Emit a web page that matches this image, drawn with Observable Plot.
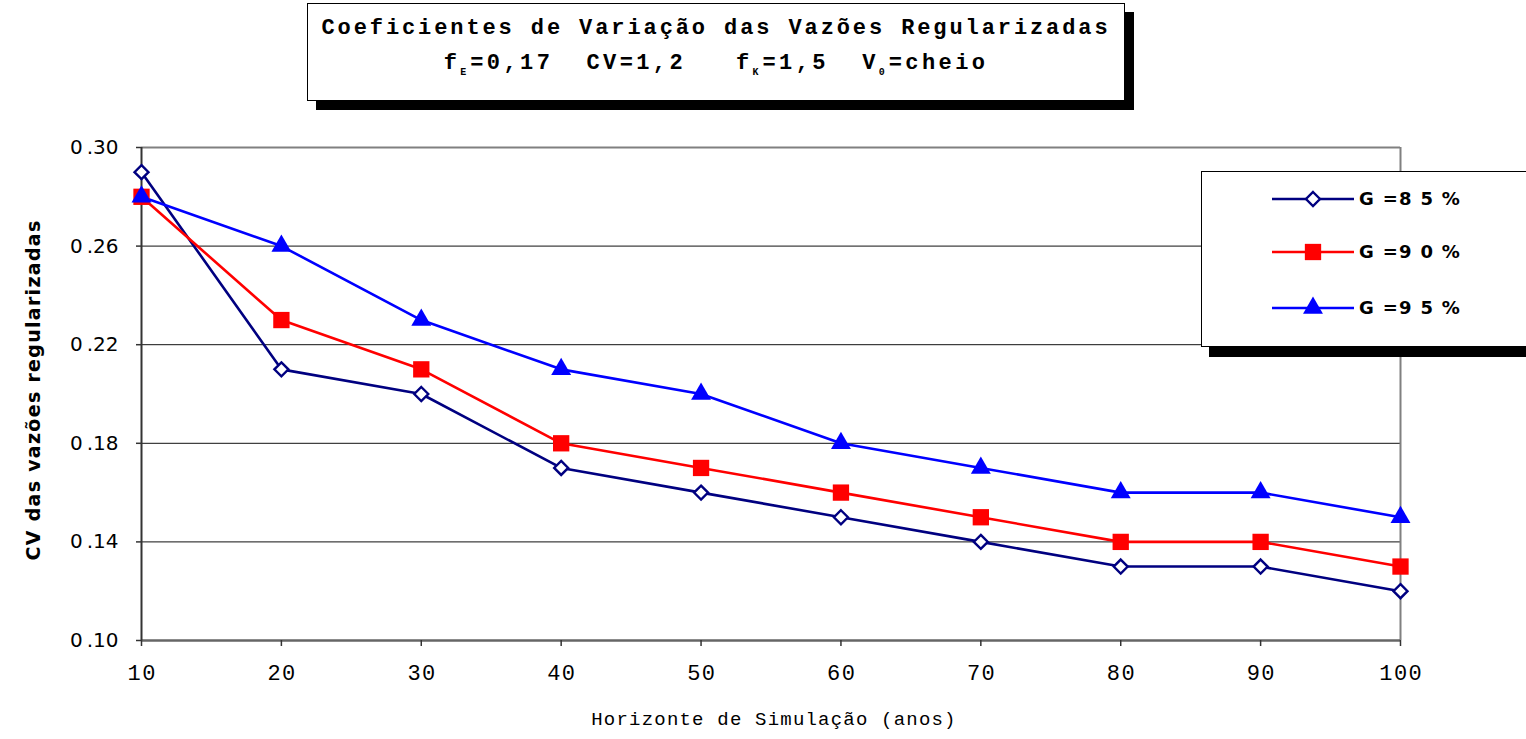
<!DOCTYPE html>
<html>
<head>
<meta charset="utf-8">
<script src="https://cdn.jsdelivr.net/npm/d3@7"></script>
<script src="https://cdn.jsdelivr.net/npm/@observablehq/plot@0.6"></script>
<style>
  html, body { margin: 0; padding: 0; background: #fff; overflow: hidden; }
  #wrap { position: relative; width: 1526px; height: 739px; }
  #chart { position: absolute; left: 0; top: 0; }
  .titlebox {
    position: absolute; left: 307px; top: 3px; width: 816px; height: 96px;
    border: 1px solid #000; background: #fff; box-shadow: 9px 9px 0 #000;
    font-family: "Liberation Mono", monospace; font-weight: bold; color: #000;
    text-align: center;
  }
  .t1 { position: absolute; left: 0; right: 0; top: 12px; font-size: 22px; letter-spacing: 2.9px; }
  .t2 { position: absolute; left: 0; right: 0; top: 47px; font-size: 22px; letter-spacing: 3.4px; white-space: pre; }
  .t2 sub { font-size: 10px; letter-spacing: 0; vertical-align: -6px; margin-right: 4px; }
  .legend {
    position: absolute; left: 1201px; top: 171px; width: 360px; height: 174px;
    border: 1px solid #000; background: #fff; box-shadow: 8px 10px 0 #000;
  }
  .ylabel {
    position: absolute; left: 33px; top: 390px; transform: translate(-50%, -50%) rotate(-90deg);
    font-family: "DejaVu Sans", sans-serif; font-weight: bold; font-size: 19px; white-space: nowrap;
    letter-spacing: 1.3px; color: #000;
  }
  .xlabel {
    position: absolute; left: 774px; top: 709px; transform: translateX(-50%);
    font-family: "Liberation Mono", monospace; font-size: 19px; letter-spacing: 1.2px; white-space: nowrap; color: #000;
  }
</style>
</head>
<body>
<div id="wrap">
  <div id="chart"></div>
  <div class="titlebox">
    <div class="t1">Coeficientes de Variação das Vazões Regularizadas</div>
    <div class="t2">f<sub>E</sub>=0,17  CV=1,2   f<sub>K</sub>=1,5  V<sub>0</sub>=cheio</div>
  </div>
  <div class="legend" id="legend"></div>
  <div class="ylabel">CV das vazões regularizadas</div>
  <div class="xlabel">Horizonte de Simulação (anos)</div>
</div>
<script>
// ---- Data ----
const years = [10, 20, 30, 40, 50, 60, 70, 80, 90, 100];
const g85 = [0.29, 0.21, 0.20, 0.17, 0.16, 0.15, 0.14, 0.13, 0.13, 0.12];
const g90 = [0.28, 0.23, 0.21, 0.18, 0.17, 0.16, 0.15, 0.14, 0.14, 0.13];
const g95 = [0.28, 0.26, 0.23, 0.21, 0.20, 0.18, 0.17, 0.16, 0.16, 0.15];
const seriesNames = ["G=85%", "G=90%", "G=95%"];
const seriesColors = ["#000080", "#FF0000", "#0000FF"];
const seriesSymbols = ["diamond2", "square", "triangle"];
const seriesRadius = [6.3, 9.2, 7.4];
const yTicks = [0.10, 0.14, 0.18, 0.22, 0.26, 0.30];
const gridTicks = [0.14, 0.18, 0.22, 0.26];

const seriesValues = [g85, g90, g95];
const rows = [];
seriesNames.forEach((s, i) => years.forEach((x, j) => rows.push({x, y: seriesValues[i][j], s})));

const chart = Plot.plot({
  width: 1526,
  height: 739,
  marginLeft: 141,
  marginRight: 126,
  marginTop: 147,
  marginBottom: 99,
  style: {background: "transparent", color: "#000", overflow: "visible"},
  x: {domain: [10, 100], label: null},
  y: {domain: [0.10, 0.30], label: null},
  color: {domain: seriesNames, range: seriesColors},
  symbol: {domain: seriesNames, range: seriesSymbols},
  marks: [
    Plot.gridY(gridTicks, {stroke: "#111", strokeOpacity: 1, strokeWidth: 1}),
    Plot.ruleY([0.30], {stroke: "#808080", strokeWidth: 2}),
    Plot.ruleX([100], {stroke: "#808080", strokeWidth: 2}),
    Plot.ruleY([0.10], {stroke: "#666", strokeWidth: 2.5}),
    Plot.ruleX([10], {stroke: "#333", strokeWidth: 2}),
    Plot.axisX(years, {tickSize: 6, tickPadding: 18, stroke: "#333", strokeWidth: 1.5, fontFamily: "Liberation Mono, monospace", fontSize: 22, fill: "#000", tickFormat: d => String(d).split("").join("\u200A"), label: null}),
    Plot.axisY(yTicks, {tickSize: 5, tickPadding: 18, stroke: "#333", strokeWidth: 1.5, fontFamily: "DejaVu Sans, sans-serif", fontSize: 20, fill: "#000", tickFormat: d => "0\u2009." + d3.format(".2f")(d).slice(2), label: null}),
    Plot.line(rows, {x: "x", y: "y", z: "s", stroke: "s", strokeWidth: 2.6}),
    Plot.dot(rows.filter(d => d.s === seriesNames[0]), {x: "x", y: "y", symbol: "s", r: seriesRadius[0], fill: "#fff", stroke: "s", strokeWidth: 2.4}),
    Plot.dot(rows.filter(d => d.s === seriesNames[1]), {x: "x", y: "y", symbol: "s", r: seriesRadius[1], fill: "s", stroke: "none"}),
    Plot.dot(rows.filter(d => d.s === seriesNames[2]), {x: "x", y: "y", symbol: "s", r: seriesRadius[2], fill: "s", stroke: "none"})
  ]
});
document.getElementById("chart").appendChild(chart);

// ---- Legend ----
const leg = d3.select("#legend").append("svg").attr("width", 360).attr("height", 174);
const legRowsY = [27, 80, 136];
const symMap = {diamond2: d3.symbolDiamond2, square: d3.symbolSquare, triangle: d3.symbolTriangle};
seriesNames.forEach((name, i) => {
  const g = leg.append("g").attr("transform", `translate(0,${legRowsY[i]})`);
  g.append("line").attr("x1", 70).attr("x2", 152).attr("y1", 0).attr("y2", 0)
    .attr("stroke", seriesColors[i]).attr("stroke-width", 2.6);
  const size = Math.PI * seriesRadius[i] * seriesRadius[i];
  const p = g.append("path").attr("d", d3.symbol(symMap[seriesSymbols[i]], size)()).attr("transform", "translate(111,0)");
  if (i === 0) p.attr("fill", "#fff").attr("stroke", seriesColors[i]).attr("stroke-width", 2.4);
  else p.attr("fill", seriesColors[i]);
  g.append("text").attr("x", 157).attr("y", 0).attr("dy", "0.36em")
    .attr("font-family", "DejaVu Sans, sans-serif").attr("font-weight", "bold").attr("font-size", 18)
    .attr("letter-spacing", "1.3px").text(name.replace("G=", "G =").replace(/(\d)(\d)%/, "$1 $2 %"));
});
</script>
</body>
</html>
